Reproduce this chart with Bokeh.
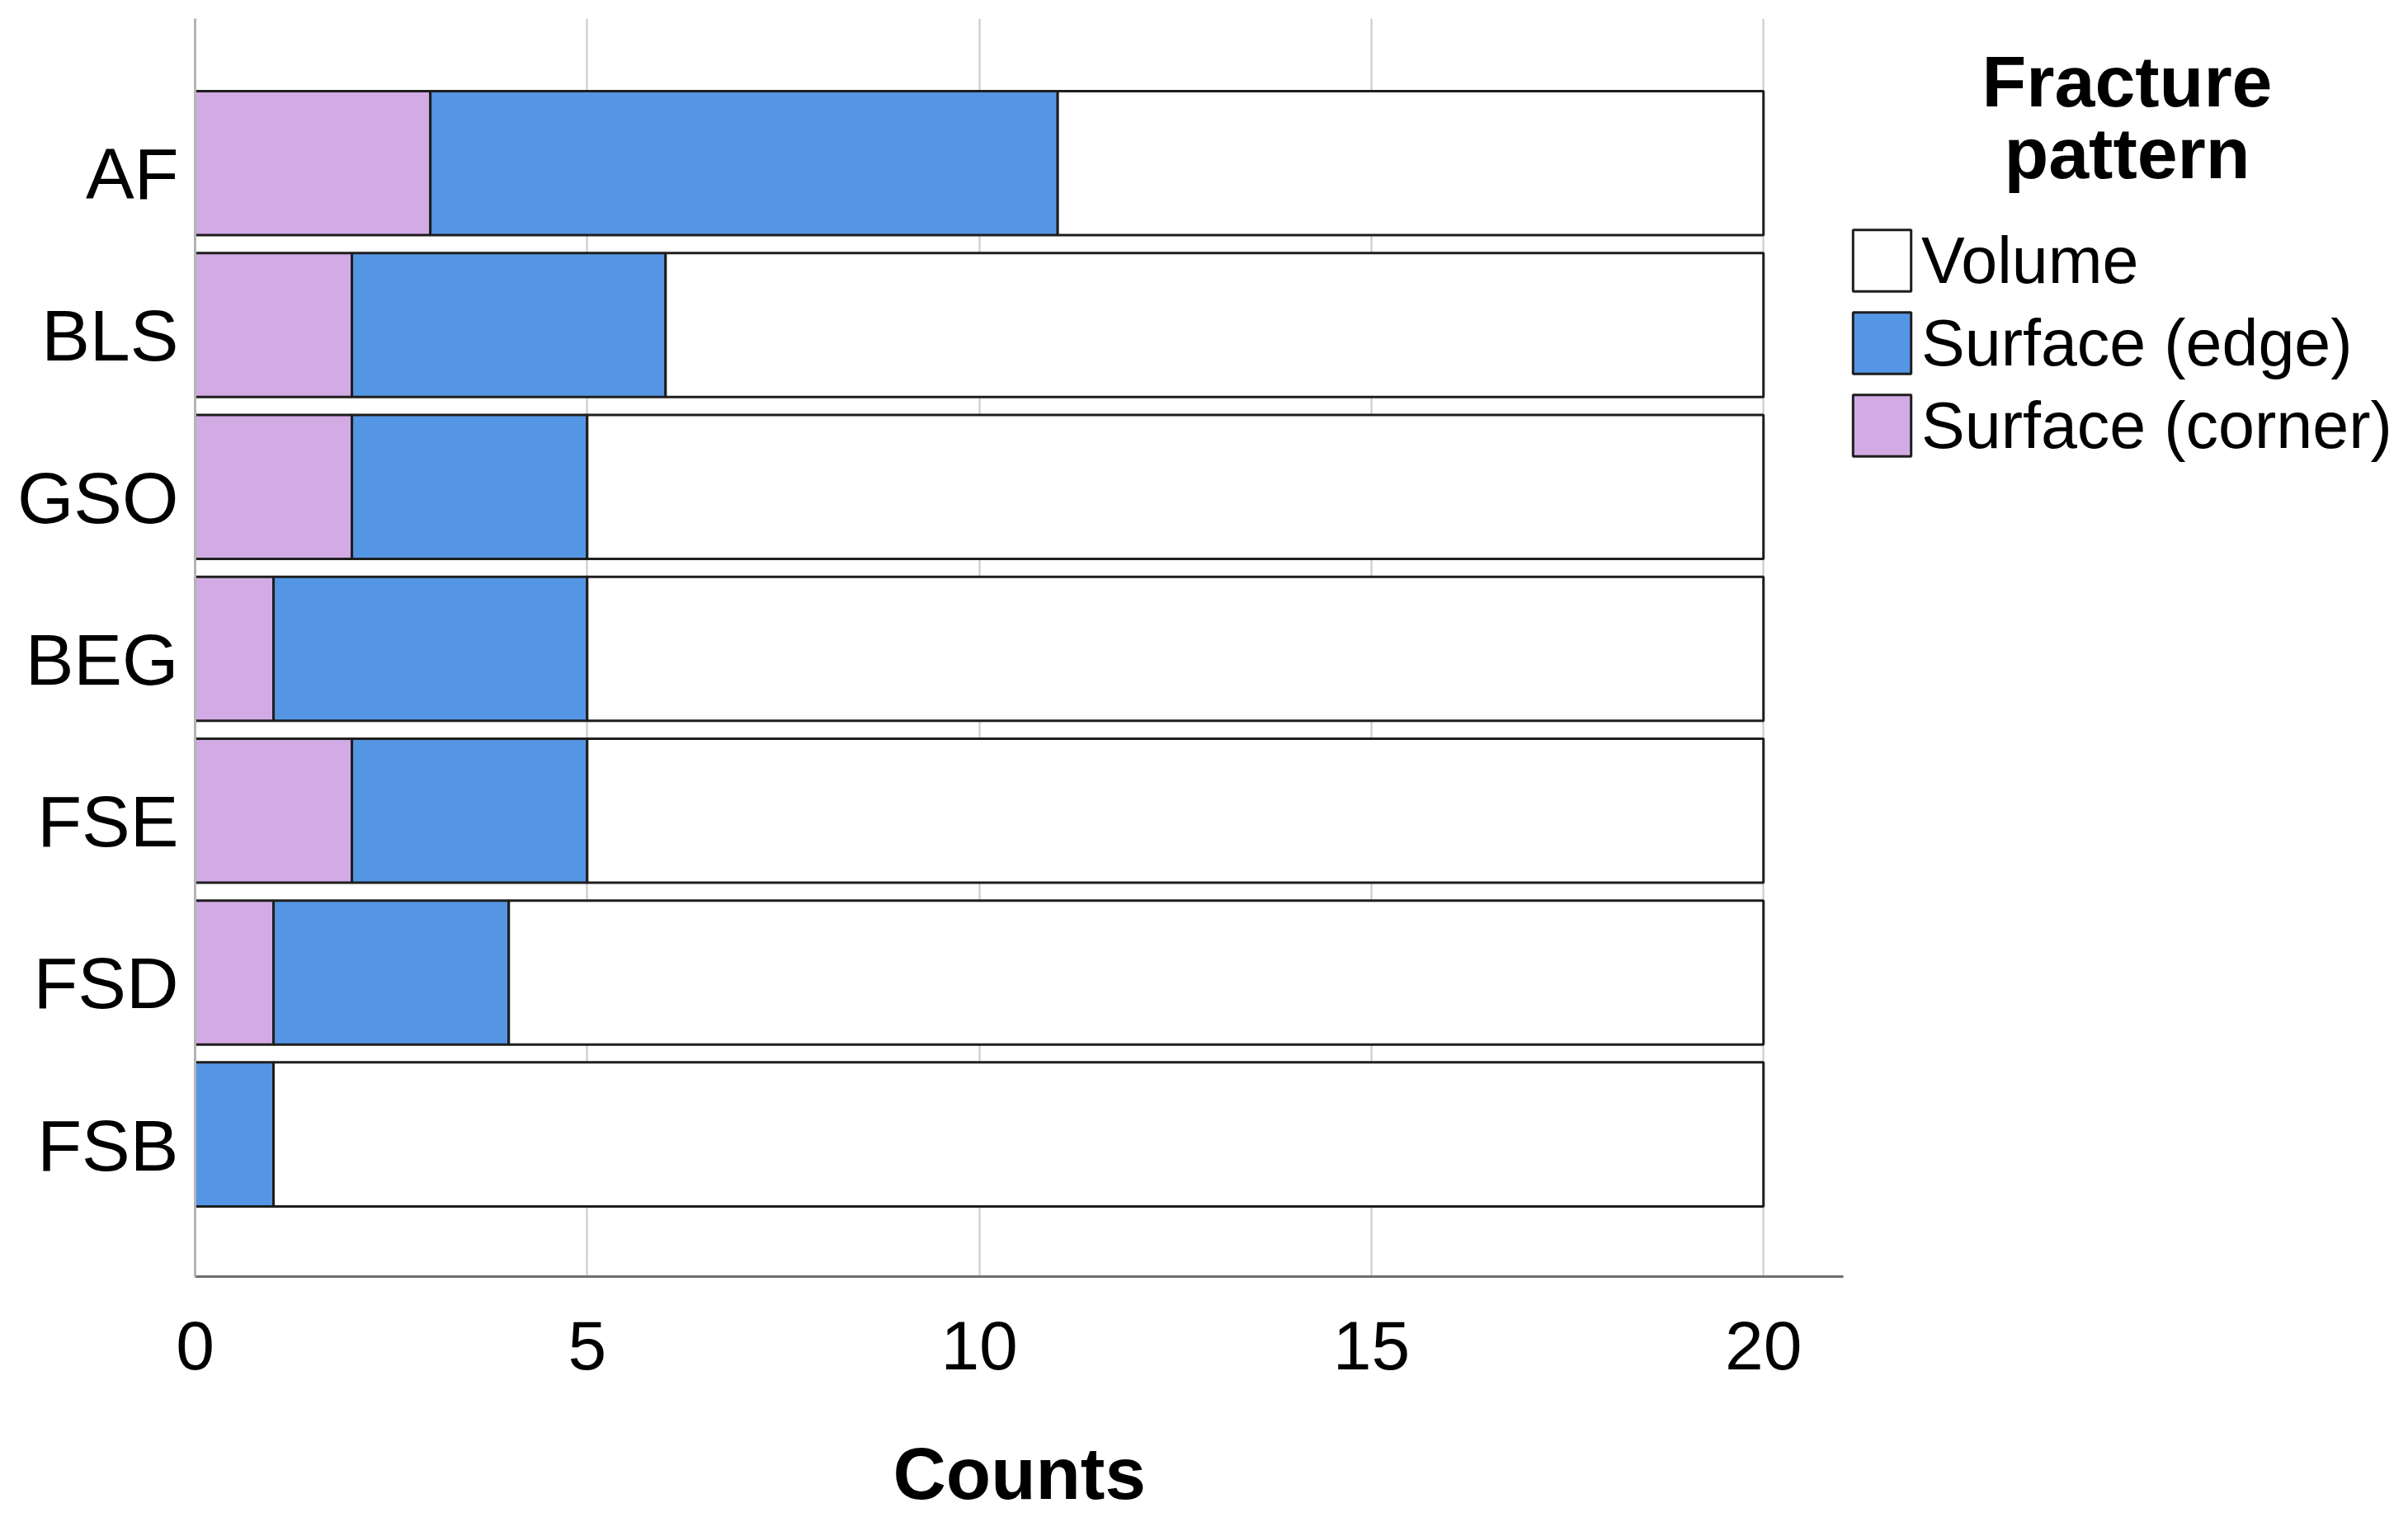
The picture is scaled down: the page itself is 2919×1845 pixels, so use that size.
from bokeh.plotting import figure
from bokeh.models import Range1d, FixedTicker, Legend, LegendItem, Label, Title, ColumnDataSource
from bokeh.embed import file_html
from bokeh.resources import INLINE

categories = ["AF", "BLS", "GSO", "BEG", "FSE", "FSD", "FSB"]
corner = [3, 2, 2, 1, 2, 1, 0]
edge = [8, 4, 3, 4, 3, 3, 1]
volume = [9, 14, 15, 15, 15, 16, 19]
x_ticks = [0, 5, 10, 15, 20]
series_keys = ["corner", "edge", "volume"]
series_names = ["Surface (corner)", "Surface (edge)", "Volume"]
colors = ["#D2AAE4", "#5596E4", "#FFFFFF"]

FONT = "Liberation Sans"
n = len(categories)
ypos = [n - 1 - i for i in range(n)]
source = ColumnDataSource(dict(y=ypos, cat=categories, corner=corner, edge=edge, volume=volume))

p = figure(frame_width=2675, frame_height=1525, output_backend="svg", toolbar_location=None,
           x_range=Range1d(0, 28.14), y_range=Range1d(-0.878, n - 1 + 0.893),
           min_border_left=236, min_border_top=22, min_border_right=0, min_border_bottom=290)
p.outline_line_color = None
p.background_fill_color = "white"

rs = p.hbar_stack(series_keys, y="y", height=0.89, fill_color=colors,
                  line_color="#1e1e1e", line_width=3, source=source)

# axes
p.xaxis.ticker = FixedTicker(ticks=x_ticks)
p.xaxis.bounds = (0, 21.02)
p.xaxis.axis_line_color = "#6e6e6e"
p.xaxis.axis_line_width = 3
p.xaxis.major_tick_line_color = None
p.xaxis.minor_tick_line_color = None
p.xaxis.major_label_text_font = FONT
p.xaxis.major_label_text_font_size = "84px"
p.xaxis.major_label_text_color = "black"
p.xaxis.major_label_standoff = 48

# y labels sit slightly below bar centres, as in the original
label_shift = 0.066
yticks = [y - label_shift for y in ypos]
p.yaxis.ticker = FixedTicker(ticks=yticks)
p.yaxis.major_label_overrides = {t: c for t, c in zip(yticks, categories)}
p.yaxis.axis_line_color = "#b4b4b4"
p.yaxis.axis_line_width = 3
p.yaxis.major_tick_line_color = None
p.yaxis.minor_tick_line_color = None
p.yaxis.major_label_text_font = FONT
p.yaxis.major_label_text_font_size = "88px"
p.yaxis.major_label_text_color = "black"
p.yaxis.major_label_standoff = 14

p.xgrid.ticker = FixedTicker(ticks=x_ticks)
p.xgrid.grid_line_color = "#c8c8c8"
p.xgrid.grid_line_width = 2
p.ygrid.grid_line_color = None

# x axis title, centred under the axis line (0 .. 21.02)
p.add_layout(Title(text="Counts", align="left", offset=846, standoff=143,
                   text_font=FONT, text_font_style="bold", text_font_size="89px",
                   text_color="black"), "below")

# legend
items = [LegendItem(label=series_names[i], renderers=[rs[i]]) for i in [2, 1, 0]]
legend = Legend(items=items, location=(2001, 985))
legend.glyph_width = 88
legend.glyph_height = 93
legend.label_text_font = FONT
legend.label_text_font_size = "79px"
legend.label_text_color = "black"
legend.label_standoff = 4
legend.spacing = 7
legend.padding = 0
legend.margin = 0
legend.border_line_color = None
legend.background_fill_alpha = 0
p.add_layout(legend)

for txt, yy in [("Fracture", 1449), ("pattern", 1362)]:
    p.add_layout(Label(x=2342, y=yy, x_units="screen", y_units="screen", text=txt,
                       text_align="center", text_baseline="alphabetic", text_font=FONT,
                       text_font_style="bold", text_font_size="88px", text_color="black"))

open("out.html", "w").write(file_html(p, INLINE))
